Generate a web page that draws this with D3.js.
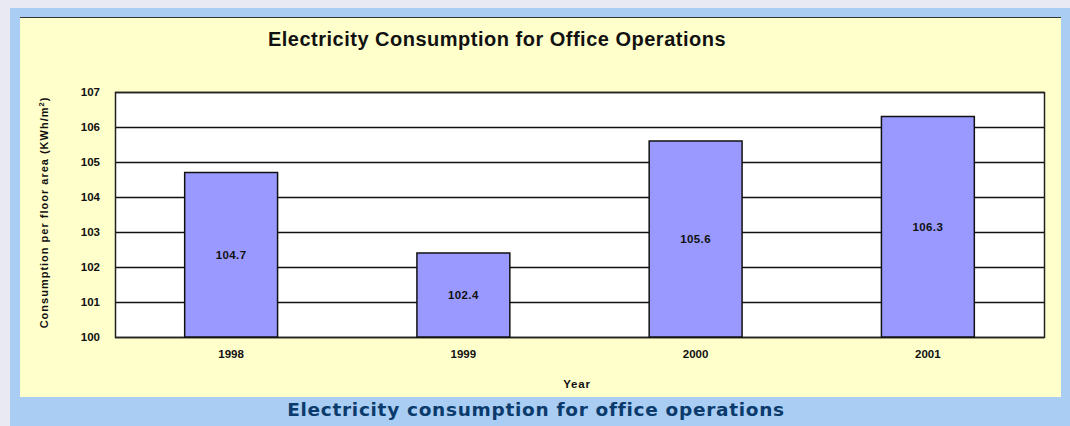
<!DOCTYPE html>
<html>
<head>
<meta charset="utf-8">
<title>Electricity Consumption for Office Operations</title>
<script src="https://cdn.jsdelivr.net/npm/d3@7"></script>
<style>
  body { margin: 0; background: #e9e9f3; }
  svg { display: block; }
</style>
</head>
<body>
<div id="chart-area"></div>
<script>
// data
const years = ["1998", "1999", "2000", "2001"];
const consumption = [104.7, 102.4, 105.6, 106.3];
const yTicks = [100, 101, 102, 103, 104, 105, 106, 107];

const W = 1070, H = 426;
const chartFont = "'Liberation Sans', Arial, sans-serif";

let svg = d3.select("#chart-area")
  .append("svg")
  .attr("width", W)
  .attr("height", H);

// page frame: lavender strip, blue frame, yellow chart image, caption band
svg.append("rect").attr("x", 0).attr("y", 0).attr("width", W).attr("height", H).attr("fill", "#e9e9f3");
svg.append("rect").attr("x", 10).attr("y", 8).attr("width", W - 10).attr("height", H - 8).attr("fill", "#aacdf3");
svg.append("rect").attr("x", 20).attr("y", 17).attr("width", 1041).attr("height", 380).attr("fill", "#ffffcc");
svg.append("line")
  .attr("x1", 20).attr("x2", 1061)
  .attr("y1", 17.5).attr("y2", 17.5)
  .attr("stroke", "#333").attr("stroke-width", 1);

// caption under the image
svg.append("text")
  .attr("x", 536)
  .attr("y", 416)
  .attr("text-anchor", "middle")
  .attr("font-family", "'DejaVu Sans', Verdana, sans-serif")
  .attr("font-weight", "bold")
  .attr("font-size", "18.5px")
  .attr("letter-spacing", "0.7px")
  .attr("fill", "#0b3b6c")
  .text("Electricity consumption for office operations");

// plot area
let margin = {left: 115, top: 92, right: 1044, bottom: 337};

let x = d3.scaleBand()
  .domain(years)
  .range([margin.left, margin.right])
  .paddingInner(0.6)
  .paddingOuter(0.3);

let y = d3.scaleLinear()
  .domain([100, 107])
  .range([margin.bottom, margin.top]);

// white plot background
svg.append("rect")
  .attr("x", margin.left)
  .attr("y", margin.top)
  .attr("width", margin.right - margin.left)
  .attr("height", margin.bottom - margin.top)
  .attr("fill", "#fff");

// gridlines
svg.append("g")
  .selectAll("line")
  .data(yTicks)
  .enter()
  .append("line")
  .attr("x1", margin.left)
  .attr("x2", margin.right)
  .attr("y1", d => Math.round(y(d)) + 0.5)
  .attr("y2", d => Math.round(y(d)) + 0.5)
  .attr("stroke", "#111")
  .attr("stroke-width", 1.5);

// plot border
svg.append("rect")
  .attr("x", margin.left + 0.5)
  .attr("y", margin.top + 0.5)
  .attr("width", margin.right - margin.left)
  .attr("height", margin.bottom - margin.top)
  .attr("fill", "none")
  .attr("stroke", "#222")
  .attr("stroke-width", 1.5);

// y axis (labels only)
let yAxisCall = d3.axisLeft(y)
  .tickValues(yTicks)
  .tickFormat(d3.format("d"))
  .tickSize(0)
  .tickPadding(15);
let yAxis = svg.append("g")
  .attr("transform", "translate(" + margin.left + ",0)")
  .call(yAxisCall);
yAxis.select(".domain").remove();
yAxis.selectAll("text")
  .attr("font-family", chartFont)
  .attr("font-weight", "bold")
  .attr("font-size", "11.5px")
  .attr("fill", "#111");

// x axis (labels only)
let xAxisCall = d3.axisBottom(x)
  .tickSize(0)
  .tickPadding(13);
let xAxis = svg.append("g")
  .attr("transform", "translate(0," + margin.bottom + ")")
  .call(xAxisCall);
xAxis.select(".domain").remove();
xAxis.selectAll("text")
  .attr("font-family", chartFont)
  .attr("font-weight", "bold")
  .attr("font-size", "11.5px")
  .attr("fill", "#111");

// bars
svg.append("g")
  .selectAll("rect")
  .data(consumption)
  .enter()
  .append("rect")
  .attr("x", (d, i) => x(years[i]))
  .attr("y", d => y(d))
  .attr("width", x.bandwidth())
  .attr("height", d => margin.bottom - y(d))
  .attr("fill", "#9999ff")
  .attr("stroke", "#111")
  .attr("stroke-width", 1.5);

// value labels in the middle of each bar
svg.append("g")
  .selectAll("text")
  .data(consumption)
  .enter()
  .append("text")
  .attr("x", (d, i) => x(years[i]) + x.bandwidth() / 2)
  .attr("y", d => (y(d) + margin.bottom) / 2)
  .attr("dy", "0.35em")
  .attr("text-anchor", "middle")
  .attr("font-family", chartFont)
  .attr("font-weight", "bold")
  .attr("font-size", "11.5px")
  .attr("letter-spacing", "0.4px")
  .attr("fill", "#111")
  .text(d => d.toFixed(1));

// chart title
svg.append("text")
  .attr("x", 497)
  .attr("y", 46)
  .attr("text-anchor", "middle")
  .attr("font-family", chartFont)
  .attr("font-weight", "bold")
  .attr("font-size", "20px")
  .attr("letter-spacing", "0.5px")
  .attr("fill", "#111")
  .text("Electricity Consumption for Office Operations");

// x label
svg.append("text")
  .attr("x", 577)
  .attr("y", 388)
  .attr("text-anchor", "middle")
  .attr("font-family", chartFont)
  .attr("font-weight", "bold")
  .attr("font-size", "11.5px")
  .attr("letter-spacing", "0.8px")
  .attr("fill", "#111")
  .text("Year");

// y label (rotated)
let yLabel = svg.append("text")
  .attr("transform", "translate(48," + ((margin.top + margin.bottom) / 2 - 2) + ") rotate(-90)")
  .attr("text-anchor", "middle")
  .attr("font-family", chartFont)
  .attr("font-weight", "bold")
  .attr("font-size", "11px")
  .attr("letter-spacing", "1px")
  .attr("fill", "#111");
yLabel.append("tspan").text("Consumption per floor area (KWh/m");
yLabel.append("tspan").attr("font-size", "7.5px").attr("dy", "-4").text("2");
yLabel.append("tspan").attr("dy", "4").text(")");
</script>
</body>
</html>
